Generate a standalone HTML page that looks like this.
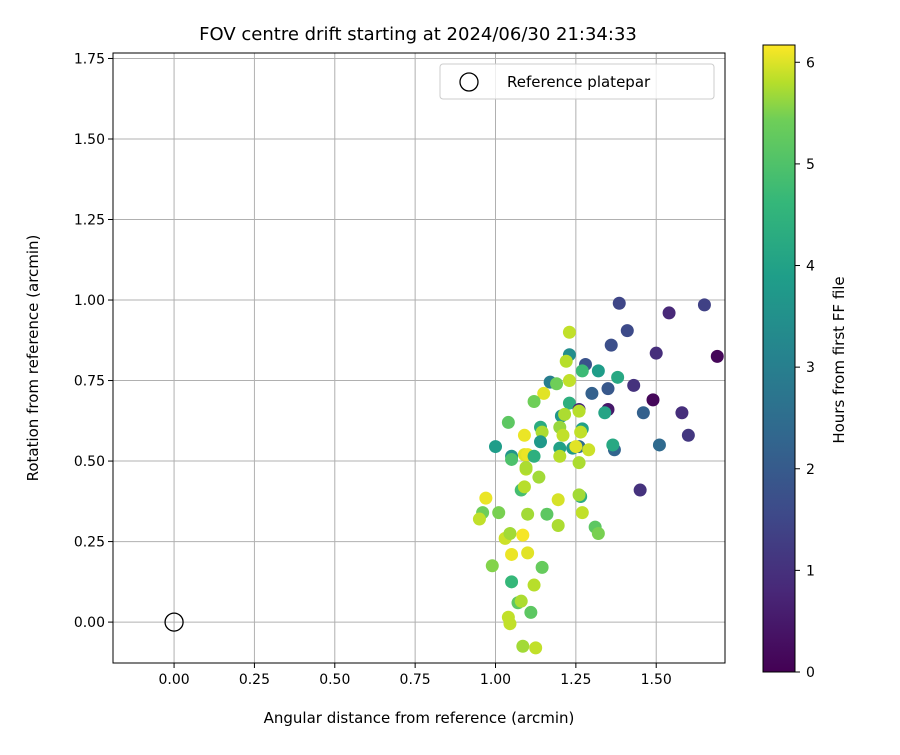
<!DOCTYPE html>
<html><head><meta charset="utf-8"><style>
body{margin:0;background:#fff;}
svg text{font-family:"DejaVu Sans","Liberation Sans",sans-serif;fill:#000;}
</style></head><body>
<svg id="chart" width="900" height="750" viewBox="0 0 900 750" xmlns="http://www.w3.org/2000/svg">
<rect width="900" height="750" fill="#fff"/>
<text x="418" y="40" font-size="18" text-anchor="middle">FOV centre drift starting at 2024/06/30 21:34:33</text>
<g id="grid"></g><g id="pts"></g><g id="axes"></g>
<rect x="113" y="53" width="612" height="610" fill="none" stroke="#000" stroke-width="1"/>
<g>
<rect x="440" y="64" width="274" height="35" rx="3" fill="#fff" fill-opacity="0.8" stroke="#ccc"/>
<circle cx="469" cy="82" r="9" fill="none" stroke="#000" stroke-width="1.3"/>
<text x="507" y="87" font-size="15">Reference platepar</text>
</g>
<defs><linearGradient id="vir" x1="0" y1="1" x2="0" y2="0">
<stop offset="0" stop-color="#440154"/><stop offset="0.13" stop-color="#482878"/><stop offset="0.25" stop-color="#3e4989"/><stop offset="0.38" stop-color="#31688e"/><stop offset="0.5" stop-color="#26828e"/><stop offset="0.63" stop-color="#1f9e89"/><stop offset="0.75" stop-color="#35b779"/><stop offset="0.88" stop-color="#6ece58"/><stop offset="0.94" stop-color="#b5de2b"/><stop offset="1" stop-color="#fde725"/></linearGradient></defs>
<rect x="763" y="45" width="32" height="627" fill="url(#vir)" stroke="#000"/>
<g id="cbticks"></g>
<text transform="translate(844,360) rotate(-90)" font-size="15" text-anchor="middle">Hours from first FF file</text>
<text x="419" y="723" font-size="15" text-anchor="middle">Angular distance from reference (arcmin)</text>
<text transform="translate(38,358) rotate(-90)" font-size="15" text-anchor="middle">Rotation from reference (arcmin)</text>
</svg>
<script>
const xTicks=[0,0.25,0.5,0.75,1.0,1.25,1.5];
const yTicks=[0,0.25,0.5,0.75,1.0,1.25,1.5,1.75];
const cbTicks=[0,1,2,3,4,5,6];
const xs=[1.65,1.54,1.385,1.41,1.36,1.50,1.69,1.43,1.35,1.49,1.35,1.30,1.46,1.58,1.60,1.51,1.45,1.37,1.365,1.34,1.38,1.32,1.28,1.27,1.23,1.23,1.22,1.17,1.19,1.15,1.12,1.23,1.26,1.26,1.23,1.205,1.20,1.215,1.14,1.145,1.14,1.27,1.265,1.26,1.21,1.20,1.24,1.25,1.29,1.20,1.26,1.04,1.00,1.05,1.05,1.09,1.10,1.09,1.12,1.095,1.095,1.135,1.08,1.09,1.195,1.265,1.26,1.10,1.16,1.27,1.31,1.32,1.195,0.97,0.96,0.95,1.01,1.03,1.045,1.085,0.99,1.05,1.10,1.05,1.12,1.145,1.07,1.08,1.11,1.04,1.045,1.085,1.125];
const ys=[0.985,0.96,0.99,0.905,0.86,0.835,0.825,0.735,0.725,0.69,0.66,0.71,0.65,0.65,0.58,0.55,0.41,0.535,0.55,0.65,0.76,0.78,0.80,0.78,0.83,0.90,0.81,0.745,0.74,0.71,0.685,0.68,0.66,0.655,0.75,0.64,0.605,0.645,0.605,0.59,0.56,0.60,0.59,0.545,0.58,0.54,0.54,0.545,0.535,0.515,0.495,0.62,0.545,0.515,0.505,0.52,0.52,0.58,0.515,0.475,0.48,0.45,0.41,0.42,0.38,0.39,0.395,0.335,0.335,0.34,0.295,0.275,0.30,0.385,0.34,0.32,0.34,0.26,0.275,0.27,0.175,0.21,0.215,0.125,0.115,0.17,0.06,0.065,0.03,0.015,-0.005,-0.075,-0.08];
const hours=[1.2,0.7,1.3,1.4,1.5,0.8,0.1,0.9,1.7,0.1,0.4,1.9,1.9,0.8,1.0,2.1,0.9,2.0,3.7,3.6,3.7,3.4,1.6,4.2,3.0,5.6,5.5,2.6,4.8,5.9,4.8,3.9,0.7,5.5,5.6,3.2,5.2,5.4,3.8,5.4,3.3,3.5,5.6,2.2,5.6,3.5,3.3,5.9,5.7,5.5,5.4,4.6,3.4,3.2,4.4,5.9,6.0,6.0,3.9,5.5,5.4,5.3,4.3,5.5,5.8,3.8,5.3,5.3,4.6,5.6,4.6,4.9,5.4,6.0,4.8,5.6,4.9,5.7,5.3,6.1,5.0,6.0,5.9,4.1,5.5,4.7,4.6,5.4,4.6,5.6,5.6,5.3,5.6];
const X0=113,X1=725,Y0=663,Y1=53,xmin=-0.19,xmax=1.714,ymin=-0.127,ymax=1.767,hmax=6.17;
const sx=v=>X0+(v-xmin)/(xmax-xmin)*(X1-X0);
const sy=v=>Y0-(v-ymin)/(ymax-ymin)*(Y0-Y1);
const sc=h=>672-h/hmax*627;
const V=[[68,1,84],[72,40,120],[62,73,137],[49,104,142],[38,130,142],[31,158,137],[53,183,121],[110,206,88],[181,222,43],[253,231,37]];
function vir(t){t=Math.max(0,Math.min(1,t))*(V.length-1);const i=Math.min(V.length-2,Math.floor(t)),f=t-i;const c=V[i].map((a,k)=>Math.round(a+(V[i+1][k]-a)*f));return `rgb(${c})`;}
const NS="http://www.w3.org/2000/svg";
function mk(tag,attrs,parent,txt){const e=document.createElementNS(NS,tag);for(const k in attrs)e.setAttribute(k,attrs[k]);if(txt!==undefined)e.textContent=txt;parent.appendChild(e);return e;}
const grid=document.getElementById('grid'),axes=document.getElementById('axes'),pts=document.getElementById('pts'),cbt=document.getElementById('cbticks');
xTicks.forEach(t=>{const x=sx(t);
 const g=mk('line',{x1:x,x2:x,y1:Y1,y2:Y0,stroke:'#b0b0b0','stroke-width':1},grid);
 
 mk('line',{x1:x,x2:x,y1:Y0,y2:Y0+5,stroke:'#000'},axes);
 const l=mk('text',{x:x,y:Y0+21,'font-size':14,'text-anchor':'middle'},axes,t.toFixed(2));
 });
yTicks.forEach(t=>{const y=sy(t);
 const g=mk('line',{x1:X0,x2:X1,y1:y,y2:y,stroke:'#b0b0b0','stroke-width':1},grid);
 
 mk('line',{x1:X0-5,x2:X0,y1:y,y2:y,stroke:'#000'},axes);
 const l=mk('text',{x:X0-8,y:y+5,'font-size':14,'text-anchor':'end'},axes,t.toFixed(2));
 });
cbTicks.forEach(t=>{const y=sc(t);
 mk('line',{x1:795,x2:800,y1:y,y2:y,stroke:'#000'},cbt);
 const l=mk('text',{x:806,y:y+5,'font-size':14},cbt,String(t));
 });
xs.forEach((v,i)=>{const c=mk('circle',{cx:sx(v),cy:sy(ys[i]),r:6.5,fill:vir(hours[i]/hmax)},pts);
 });
const ref=mk('circle',{cx:sx(0),cy:sy(0),r:9,fill:'none',stroke:'#000','stroke-width':1.3},pts);


</script>
</body></html>
